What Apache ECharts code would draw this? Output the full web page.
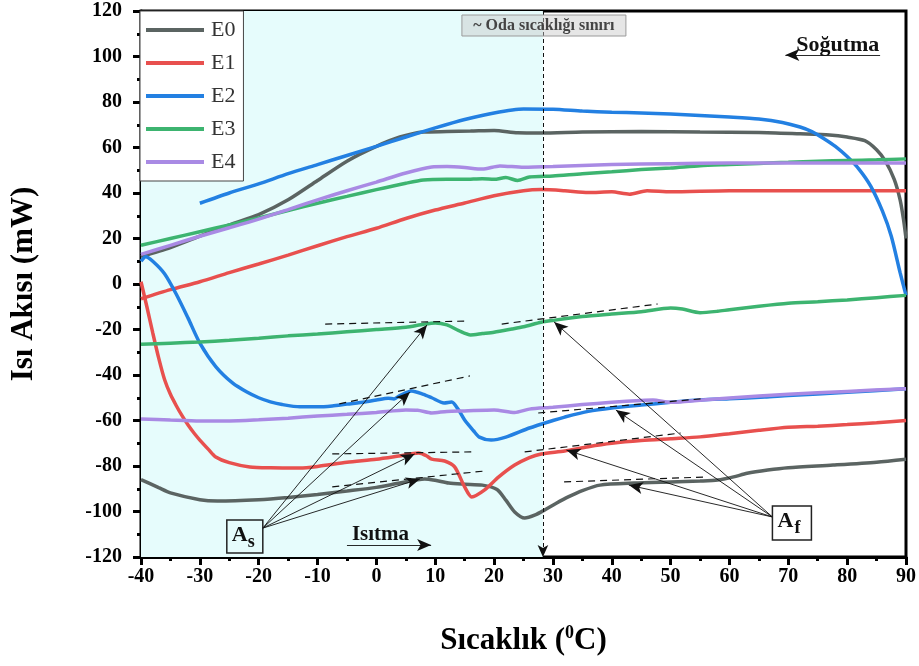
<!DOCTYPE html>
<html>
<head>
<meta charset="utf-8">
<script src="https://cdn.jsdelivr.net/npm/echarts@6/dist/echarts.min.js"></script>
<style>
  html, body { margin: 0; padding: 0; background: #fff; }
  #chart { width: 919px; height: 666px; }
</style>
</head>
<body>
<div id="chart"></div>
<script>
// eksen
var xTicks = [-40, -30, -20, -10, 0, 10, 20, 30, 40, 50, 60, 70, 80, 90]
var yTicks = [-120, -100, -80, -60, -40, -20, 0, 20, 40, 60, 80, 100, 120]
var names = ['E0', 'E1', 'E2', 'E3', 'E4']
var colors = ['#5b6462', '#e8504e', '#2380e2', '#3db470', '#a98ae4']

// soğutma (üst) eğrileri [sıcaklık, ısı akısı]
var e0Cool = [[-40, 12], [-35, 16], [-30, 21], [-25, 26], [-20, 30.5], [-15, 37], [-10, 45.5], [-5, 54], [0, 60.5], [4, 64.6], [8, 66.8], [12, 67], [16, 67.2], [20, 67.5], [24, 66.5], [28, 66.4], [35, 66.8], [45, 67], [55, 66.8], [65, 66.6], [72, 66], [77, 65.5], [80, 64.6], [83, 63], [85, 59], [86.5, 54], [88, 46], [89, 37], [89.6, 28], [90, 20]]
var e1Cool = [[-40, -6.5], [-35, -2.5], [-30, 1], [-25, 5], [-20, 8.8], [-15, 12.7], [-10, 16.8], [-5, 20.8], [0, 24.5], [5, 28.8], [10, 32.5], [15, 35.6], [20, 38.8], [25, 41], [28, 41.5], [32, 41], [36, 40.2], [40, 40.5], [43, 39.5], [46, 41], [50, 40.5], [60, 41], [70, 41], [80, 41], [90, 41]]
var e2Cool = [[-30, 35.5], [-25, 40], [-20, 44], [-15, 48.5], [-10, 52.5], [-5, 56.5], [0, 60.5], [5, 64.6], [10, 68.6], [15, 72.3], [20, 75.2], [25, 76.9], [30, 76.8], [35, 76], [40, 75.5], [45, 75.2], [50, 74.7], [55, 74.1], [60, 73.4], [65, 72.5], [69, 71], [72, 69], [74, 67], [76, 64], [78, 60.5], [80, 56], [82, 50.5], [84, 43], [86, 32], [87.5, 21], [89, 5], [90, -5]]
var e3Cool = [[-40, 17], [-35, 20], [-30, 23], [-25, 26], [-20, 29], [-15, 32.3], [-10, 35.5], [-5, 38.5], [0, 41.5], [5, 44.3], [8, 45.7], [12, 46], [15, 46], [18, 46.3], [20, 46], [22, 46.8], [24, 45.5], [26, 47], [30, 47.5], [35, 48.5], [40, 49.3], [45, 50.3], [50, 51], [55, 52], [60, 52.5], [65, 53], [70, 53.5], [75, 54], [80, 54.3], [85, 54.6], [90, 55]]
var e4Cool = [[-40, 13], [-35, 17], [-30, 21], [-25, 24.7], [-20, 28.5], [-15, 32.7], [-10, 37], [-5, 41], [0, 44.8], [5, 48.8], [9.4, 51.4], [12, 51.6], [15, 51.2], [18, 50.5], [21, 51.9], [25, 51.3], [30, 51.6], [40, 52.5], [50, 52.9], [60, 53.2], [70, 53.2], [80, 53.2], [90, 53.2]]

// ısıtma (alt) eğrileri
var e0Heat = [[-40, -86], [-37, -89.5], [-35, -91.8], [-30, -94.8], [-27, -95.4], [-20, -94.8], [-15, -93.8], [-10, -92.5], [-5, -91], [0, -89.4], [4, -87.5], [8.2, -85.7], [10, -86.3], [12.3, -87.5], [15, -88], [18, -88.4], [20.5, -90.3], [22, -95], [23.5, -100.2], [25.2, -102.9], [27, -101.5], [28.6, -99.3], [30.5, -96.5], [32.6, -93.6], [35, -90.8], [38, -88.4], [43.8, -87.5], [50, -87], [55, -86.6], [58, -86.2], [60.7, -84.8], [63, -83.2], [66.5, -81.8], [70, -80.8], [77.6, -79.6], [85, -78.3], [90, -77]]
var e1Heat = [[-40, 1], [-39, -10], [-38, -21.5], [-37, -32.5], [-36, -42], [-35, -48.5], [-34, -53.5], [-33, -58], [-32, -62], [-31, -65.5], [-30, -68.6], [-28.5, -72.8], [-27.3, -76], [-25, -78.5], [-21.5, -80.4], [-18, -80.8], [-13, -80.9], [-10, -80.2], [-5, -78.4], [0, -77], [3.8, -75.6], [7.2, -74.3], [8.5, -75.5], [9.4, -77], [11.6, -77.8], [13.3, -80.4], [15, -89.2], [16.2, -93.6], [18.4, -90.5], [20.8, -84.8], [23.5, -79.6], [26, -76.3], [28, -74.7], [32, -73.4], [36, -71.5], [40, -70], [45, -68.8], [50, -68], [55, -67.2], [60, -65.8], [65, -64.3], [70, -63], [75, -62.5], [80, -61.8], [85, -61], [90, -60]]
var e2Heat = [[-40, 10], [-39.2, 12], [-38, 10], [-36, 4.5], [-34, -4.5], [-32, -15], [-30, -26], [-27.3, -36.3], [-24.4, -43.6], [-22, -47.5], [-20, -50], [-18, -51.8], [-16, -53], [-13, -54], [-10, -54], [-7.5, -53.6], [-5, -52.8], [-2, -51.9], [0, -51], [2, -50.2], [3, -50.5], [4, -49], [6, -47], [8, -48.5], [9.4, -50], [11.5, -52.3], [12.8, -51.9], [14, -55.5], [15, -59.8], [16.5, -64.5], [17.5, -67.3], [19.5, -68.6], [22, -67.3], [26, -63.3], [30, -60], [32, -58.5], [36, -56], [40, -54.5], [45, -53.2], [50, -52], [55, -51], [60, -50.4], [66, -49.7], [70, -49], [80, -47.6], [90, -46]]
var e3Heat = [[-40, -26.5], [-35, -26], [-30, -25.5], [-25, -24.7], [-20, -23.8], [-15, -22.8], [-10, -22], [-5, -21], [0, -20], [5, -19], [8, -17.7], [10, -17.1], [12, -18], [14, -20.5], [16, -22.4], [18, -21.8], [20, -21.2], [23, -19.8], [25, -18.8], [28, -16.8], [30, -16], [35, -14.3], [40, -13.2], [45, -12.2], [50, -10.5], [52, -11], [55, -12.6], [58, -12], [60, -11.3], [65, -9.8], [70, -8.5], [75, -7.8], [80, -7], [85, -6], [90, -5]]
var e4Heat = [[-40, -59.3], [-35, -59.8], [-30, -60.2], [-25, -60.2], [-20, -59.7], [-15, -59], [-10, -58], [-5, -57.3], [0, -56.5], [5, -55.4], [7, -55.5], [9.4, -56.7], [12, -56], [15, -55.8], [20, -55.4], [23.5, -56.5], [26, -55], [30, -54.2], [35, -53], [40, -52], [45, -51.2], [47, -51], [50, -52], [53, -51.5], [60, -50.1], [70, -48.5], [80, -47.2], [90, -46]]

// teğet çizgileri ve oklar (A_s, A_f)
var tangents = [
  [[-8.7, -17.6], [15.0, -16.3]], [[-6.3, -52.7], [15.9, -40.4]], [[-7.5, -74.7], [16.2, -73.8]], [[-7.5, -89.2], [18.4, -82.2]],
  [[21.3, -17.6], [47.8, -8.8]], [[27.5, -56.7], [55.1, -50.5]], [[25.2, -73.8], [51.7, -65.5]], [[31.9, -87.0], [56.3, -84.8]]
]
var asFrom = [-19.3, -107.3]
var asTo = [[8.6, -18.0], [5.7, -47.5], [6.5, -74.7], [7.4, -85.7]]
var afFrom = [67.3, -102.4]
var afTo = [[30.2, -16.7], [40.7, -55.4], [32.3, -73], [42.9, -88.4]]
var roomTemp = 28.3

var chart = echarts.init(document.getElementById('chart'))
var serif = 'Liberation Serif'

var cool = [e0Cool, e1Cool, e2Cool, e3Cool, e4Cool]
var heat = [e0Heat, e1Heat, e2Heat, e3Heat, e4Heat]
var series = []
names.forEach(function (n, i) {
  ;[cool[i], heat[i]].forEach(function (d) {
    series.push({
      name: n, type: 'line', data: d, smooth: 0.25, symbol: 'none', showSymbol: false,
      lineStyle: { width: 3.5, color: colors[i] }, itemStyle: { color: colors[i] }, z: 3
    })
  })
})

var arrowLines = []
asTo.forEach(function (p) { arrowLines.push([{ coord: asFrom }, { coord: p }]) })
afTo.forEach(function (p) { arrowLines.push([{ coord: afFrom }, { coord: p }]) })

series.push({
  name: 'annot', type: 'line', data: [], silent: true, z: 4,
  markArea: {
    silent: true,
    itemStyle: { color: '#e6fcfc' },
    data: [[{ xAxis: -40 }, { xAxis: roomTemp }]]
  },
  markLine: {
    silent: true, symbol: ['none', 'none'], label: { show: false },
    lineStyle: { color: '#111', type: [7, 5], width: 1.2 },
    data: tangents.map(function (t) { return [{ coord: t[0] }, { coord: t[1] }] })
  }
})
series.push({
  name: 'arrows', type: 'line', data: [], silent: true, z: 5,
  markLine: {
    silent: true, symbol: ['none', 'arrow'], symbolSize: [9, 14], label: { show: false },
    lineStyle: { color: '#111', type: 'solid', width: 0.9 },
    data: arrowLines.concat([
      [{ coord: [-5, -114.7] }, { coord: [9.3, -114.7] }],
      [{ coord: [85.6, 100.7] }, { coord: [69.5, 100.7] }]
    ])
  }
})
series.push({
  name: 'room', type: 'line', data: [], silent: true, z: 5,
  markLine: {
    silent: true, symbol: ['none', 'arrow'], symbolSize: [8, 12], label: { show: false },
    lineStyle: { color: '#111', type: [4, 3], width: 1 },
    data: [[{ coord: [roomTemp, 120] }, { coord: [roomTemp, -120] }]]
  }
})

var option = {
  animation: false,
  backgroundColor: '#fff',
  grid: { left: 138, right: 13, top: 11, bottom: 109, show: true, borderColor: '#000', borderWidth: 3, backgroundColor: 'transparent' },
  legend: {
    data: names, orient: 'vertical', left: 140, top: 11, icon: 'rect',
    backgroundColor: '#fff', borderColor: '#444', borderWidth: 1,
    padding: [8, 8, 8, 6], itemGap: 11, itemWidth: 58, itemHeight: 4,
    textStyle: { fontFamily: serif, fontSize: 22, color: '#333', padding: [0, 0, 0, 2] }
  },
  xAxis: {
    type: 'value', min: -40, max: 90, interval: 10,
    name: '{a|Sıcaklık (}{s|0}{a|C)}', nameLocation: 'middle', nameGap: 67,
    nameTextStyle: {
      rich: {
        a: { fontFamily: serif, fontWeight: 'bold', fontSize: 31, color: '#000' },
        s: { fontFamily: serif, fontWeight: 'bold', fontSize: 18, color: '#000', padding: [0, 0, 15, 0] }
      }
    },
    axisLine: { onZero: false, lineStyle: { color: '#000', width: 3 } },
    axisTick: { length: 8, lineStyle: { width: 3, color: '#000' } },
    minorTick: { show: true, splitNumber: 2, length: 4, lineStyle: { width: 3, color: '#000' } },
    splitLine: { show: false },
    axisLabel: { margin: 10, fontFamily: serif, fontWeight: 'bold', fontSize: 20, color: '#000' }
  },
  yAxis: {
    type: 'value', min: -120, max: 120, interval: 20,
    name: 'Isı Akısı (mW)', nameLocation: 'middle', nameGap: 102, nameRotate: 90,
    nameTextStyle: { fontFamily: serif, fontWeight: 'bold', fontSize: 31, color: '#000' },
    axisLine: { onZero: false, lineStyle: { color: '#000', width: 3 } },
    axisTick: { length: 8, lineStyle: { width: 3, color: '#000' } },
    minorTick: { show: true, splitNumber: 2, length: 4, lineStyle: { width: 3, color: '#000' } },
    splitLine: { show: false },
    axisLabel: { margin: 19, fontFamily: serif, fontWeight: 'bold', fontSize: 20, color: '#000' }
  },
  series: series
}
chart.setOption(option)

// metin kutuları
function px(p) { return chart.convertToPixel({ xAxisIndex: 0, yAxisIndex: 0 }, p) }
var rt = px([roomTemp, 120])
var asP = px(asFrom)
var afP = px(afFrom)
var isP = px([0.7, -110])
var sgP = px([78.4, 104.8])
chart.setOption({
  graphic: [
    { type: 'rect', shape: { x: rt[0] - 81, y: 15, width: 164, height: 21 }, style: { fill: 'rgba(200,200,200,0.45)', stroke: '#9a9a9a', lineWidth: 1 }, z: 20 },
    { type: 'text', x: rt[0] + 1, y: 26, style: { text: '~ Oda sıcaklığı sınırı', font: 'bold 16px "Liberation Serif"', fill: '#444', align: 'center', verticalAlign: 'middle' }, z: 21 },
    { type: 'rect', shape: { x: asP[0] - 36, y: asP[1] - 8, width: 36, height: 33 }, style: { fill: 'rgba(0,0,0,0)', stroke: '#222', lineWidth: 1.5 }, z: 20 },
    { type: 'text', x: asP[0] - 31, y: asP[1] - 4, style: { text: 'A', font: 'bold 22px "Liberation Serif"', fill: '#111' }, z: 21 },
    { type: 'text', x: asP[0] - 15, y: asP[1] + 5, style: { text: 's', font: 'bold 18px "Liberation Serif"', fill: '#111' }, z: 21 },
    { type: 'rect', shape: { x: afP[0], y: afP[1] - 11, width: 39, height: 34 }, style: { fill: '#fff', stroke: '#222', lineWidth: 1.5 }, z: 20 },
    { type: 'text', x: afP[0] + 5, y: afP[1] - 7, style: { text: 'A', font: 'bold 22px "Liberation Serif"', fill: '#111' }, z: 21 },
    { type: 'text', x: afP[0] + 22, y: afP[1] + 2, style: { text: 'f', font: 'bold 18px "Liberation Serif"', fill: '#111' }, z: 21 },
    { type: 'text', x: isP[0], y: isP[1], style: { text: 'Isıtma', font: 'bold 21px "Liberation Serif"', fill: '#111', align: 'center', verticalAlign: 'middle' }, z: 21 },
    { type: 'text', x: sgP[0], y: sgP[1], style: { text: 'Soğutma', font: 'bold 22px "Liberation Serif"', fill: '#111', align: 'center', verticalAlign: 'middle' }, z: 21 }
  ]
})
window.addEventListener('resize', function () { chart.resize() })
</script>
</body>
</html>
